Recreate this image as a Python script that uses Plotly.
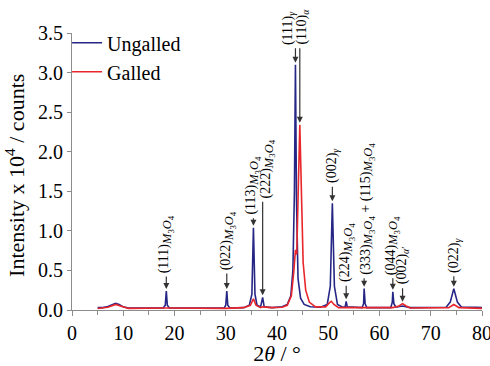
"""XRD patterns of galled and ungalled surfaces, rebuilt with Plotly."""

import numpy as np
import plotly.graph_objects as go

# Ungalled (blue) pattern: 2theta in degrees, intensity x 10^4 counts
ungalled_2theta = [
    5.0, 6.0, 7.0, 7.8, 8.5, 9.2, 10.0, 11.0, 14.0, 17.8, 18.2, 18.4, 18.6, 19.0,
    24.0, 29.7, 30.0, 30.2, 30.4, 30.8, 33.5, 34.6, 35.1, 35.4, 35.7, 36.1, 36.8,
    37.2, 37.5, 39.0, 41.0, 42.0, 42.7, 43.1, 43.4, 43.6, 43.8, 44.1, 44.6, 45.3,
    46.5, 48.5, 49.8, 50.4, 50.8, 51.2, 51.8, 52.8, 53.3, 53.5, 53.7, 56.6, 56.9,
    57.0, 57.2, 57.5, 62.2, 62.5, 62.6, 62.8, 63.2, 64.5, 66.0, 73.0, 73.8, 74.5,
    75.2, 76.0, 79.0, 80.0,
]
ungalled_counts = [
    0.03, 0.03, 0.045, 0.07, 0.085, 0.07, 0.04, 0.025, 0.025, 0.025, 0.06, 0.24, 0.06, 0.025,
    0.025, 0.025, 0.06, 0.24, 0.06, 0.025, 0.03, 0.06, 0.2, 1.04, 0.2, 0.06, 0.04,
    0.16, 0.04, 0.03, 0.04, 0.07, 0.18, 0.5, 1.5, 3.1, 1.4, 0.4, 0.15, 0.07,
    0.04, 0.035, 0.07, 0.3, 1.35, 0.3, 0.07, 0.035, 0.04, 0.11, 0.04, 0.03, 0.08,
    0.27, 0.08, 0.03, 0.03, 0.1, 0.23, 0.08, 0.035, 0.05, 0.03, 0.035, 0.1, 0.27,
    0.1, 0.035, 0.035, 0.03,
]

# Galled (red) pattern
galled_2theta = [
    5.0, 7.0, 8.5, 10.0, 11.0, 18.4, 30.0, 33.5, 34.8, 35.4, 35.9, 36.8, 37.2,
    39.0, 41.0, 42.0, 42.8, 43.3, 43.6, 43.85, 44.1, 44.45, 44.8, 45.1, 45.6,
    46.3, 47.5, 49.5, 50.2, 50.6, 51.1, 52.0, 57.0, 62.6, 63.8, 64.5, 65.2, 66.0,
    73.5, 74.5, 75.5, 80.0,
]
galled_counts = [
    0.02, 0.035, 0.07, 0.035, 0.02, 0.025, 0.02, 0.03, 0.06, 0.14, 0.06, 0.03, 0.04,
    0.03, 0.035, 0.06, 0.18, 0.5, 0.76, 0.7, 1.5, 2.34, 1.4, 0.6, 0.25,
    0.1, 0.04, 0.04, 0.09, 0.11, 0.07, 0.03, 0.03, 0.03, 0.05, 0.08, 0.05, 0.025,
    0.03, 0.07, 0.03, 0.02,
]

M3O4 = ("<span style='font-size:12.5px'><i>M</i><sub>3</sub>"
        "<i>O</i><sub>4</sub></span>")
# peak labels: 2theta, series, text
peak_angles = [18.4, 30.2, 35.4, 37.2, 43.6, 44.45, 50.8, 53.5, 57.0, 62.6, 64.5, 74.5]
peak_series = ["u", "u", "u", "u", "u", "g", "u", "u", "u", "u", "g", "u"]
peak_texts = [
    f"(111)<sub>{M3O4}</sub>",
    f"(022)<sub>{M3O4}</sub>",
    f"(113)<sub>{M3O4}</sub>",
    f"(222)<sub>{M3O4}</sub>",
    "(111)<sub><i>γ</i></sub>",
    "(110)<sub><i>α</i></sub>",
    "(002)<sub><i>γ</i></sub>",
    f"(224)<sub>{M3O4}</sub>",
    f"(333)<sub>{M3O4}</sub> + (115)<sub>{M3O4}</sub>",
    f"(044)<sub>{M3O4}</sub>",
    "(002)<sub><i>α</i>′</sub>",
    "(022)<sub><i>γ</i></sub>",
]
# arrow length and text offset in pixels
arrow_px = [16, 19, 11, 97, 18, 78, 18, 17, 12, 15, 17, 14]
text_dx = [0, 1, 0, 5, -7, 3, 0, 1, 3, 0, 0, 0]

BLUE = "#262686"
RED = "#e8262b"
FONT = "Liberation Serif, Times New Roman, DejaVu Serif, serif"
AXIS_GREY = "#8c8c8c"

fig = go.Figure()
fig.add_trace(go.Scatter(x=ungalled_2theta, y=ungalled_counts, mode="lines", name="Ungalled",
                         line=dict(color=BLUE, width=1.6)))
fig.add_trace(go.Scatter(x=galled_2theta, y=galled_counts, mode="lines", name="Galled",
                         line=dict(color=RED, width=1.6)))

for ang, ser, txt, alen, dx in zip(peak_angles, peak_series, peak_texts, arrow_px, text_dx):
    if ser == "u":
        top = float(np.interp(ang, ungalled_2theta, ungalled_counts))
    else:
        top = float(np.interp(ang, galled_2theta, galled_counts))
    fig.add_annotation(x=ang, y=top, ax=0, ay=-alen, text="", showarrow=True,
                       arrowhead=2, arrowsize=1, arrowwidth=1.2, arrowcolor="#333333",
                       standoff=2)
    fig.add_annotation(x=ang, y=top, text=txt, showarrow=False, textangle=-90,
                       xanchor="center", yanchor="bottom", yshift=alen, xshift=dx,
                       font=dict(family=FONT, size=14, color="black"))

# y axis title as a rotated annotation so it can sit slightly below centre
fig.add_annotation(x=-0.139, y=0.484, xref="paper", yref="paper", showarrow=False,
                   text="Intensity x 10<sup>4</sup> / counts", textangle=-90,
                   xanchor="center", yanchor="middle",
                   font=dict(family=FONT, size=22, color="black"))

fig.update_layout(
    width=490,
    height=366,
    margin=dict(l=72, r=8, t=33, b=56),
    paper_bgcolor="white",
    plot_bgcolor="white",
    font=dict(family=FONT, size=20, color="black"),
    showlegend=True,
    legend=dict(x=-0.012, y=1.035, xanchor="left", yanchor="top",
                bgcolor="rgba(0,0,0,0)", font=dict(family=FONT, size=20),
                itemwidth=30, tracegroupgap=0),
)
fig.update_xaxes(
    range=[0, 80], dtick=10, ticks="outside", ticklen=5, tickcolor=AXIS_GREY,
    showline=True, linecolor=AXIS_GREY, linewidth=1, showgrid=False, zeroline=False,
    minor=dict(dtick=5, ticks="outside", ticklen=4, tickcolor=AXIS_GREY),
    tickfont=dict(family=FONT, size=20), ticklabeloverflow="allow", automargin=False,
    title=dict(text="2<i>θ</i>\u00a0/\u00a0°", font=dict(family=FONT, size=22), standoff=4),
)
fig.update_yaxes(
    range=[0, 3.5], dtick=0.5, tickformat=".1f", ticks="outside", ticklen=4,
    tickcolor=AXIS_GREY, showline=True, linecolor=AXIS_GREY, linewidth=1,
    showgrid=False, zeroline=False, tickfont=dict(family=FONT, size=20), automargin=False,
)

# the page body has a default 8px margin; drop it so the figure fills the window
fig.write_html("out.html", config={"displayModeBar": False},
               post_script="document.body.style.margin = '0';")
